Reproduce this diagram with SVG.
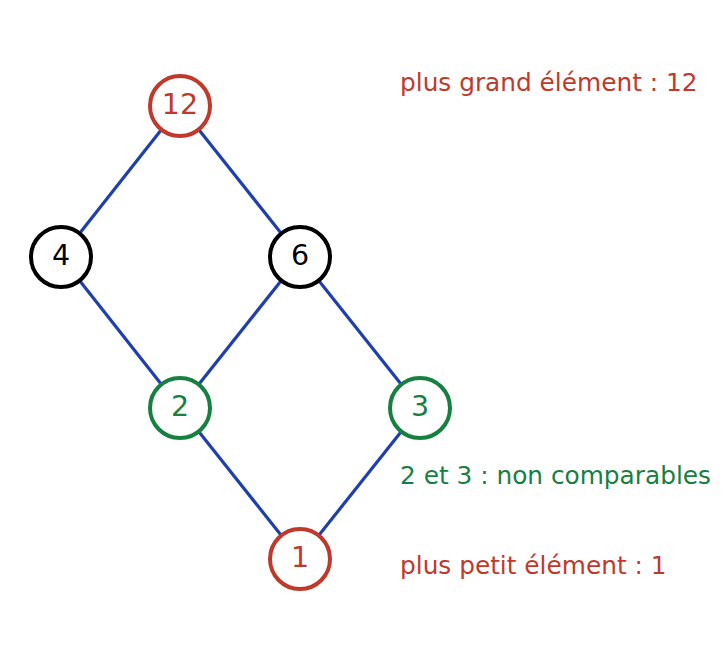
<svg xmlns="http://www.w3.org/2000/svg" width="727" height="665" viewBox="0 0 727 665">
<style>
.edge{stroke:#1f3fae;stroke-width:3.2;fill:none}
.node circle{fill:#fff;stroke-width:4}
.node text{font-family:"DejaVu Sans",sans-serif;font-size:28.5px;text-anchor:middle}
.red circle{stroke:#c0392b}.red text{fill:#c0392b}
.green circle{stroke:#178040}.green text{fill:#178040}
.black circle{stroke:#000}.black text{fill:#000}
.note{font-family:"DejaVu Sans",sans-serif;font-size:24.8px}
</style>
<rect width="727" height="665" fill="#fff"/>
<g id="connectors">
<line class="edge" x1="180" y1="106" x2="61" y2="257"/>
<line class="edge" x1="180" y1="106" x2="300" y2="257"/>
<line class="edge" x1="61" y1="257" x2="180" y2="408"/>
<line class="edge" x1="300" y1="257" x2="180" y2="408"/>
<line class="edge" x1="300" y1="257" x2="420" y2="408"/>
<line class="edge" x1="180" y1="408" x2="300" y2="559"/>
<line class="edge" x1="420" y1="408" x2="300" y2="559"/>
</g>
<g id="n12" class="node red"><circle cx="180" cy="106" r="30"/><text x="180" y="113.5">12</text></g>
<g id="n4" class="node black"><circle cx="61" cy="257" r="30"/><text x="61" y="264.5">4</text></g>
<g id="n6" class="node black"><circle cx="300" cy="257" r="30"/><text x="300" y="264.5">6</text></g>
<g id="n2" class="node green"><circle cx="180" cy="408" r="30"/><text x="180" y="415.5">2</text></g>
<g id="n3" class="node green"><circle cx="420" cy="408" r="30"/><text x="420" y="415.5">3</text></g>
<g id="n1" class="node red"><circle cx="300" cy="559" r="30"/><text x="300" y="566.5">1</text></g>
<g id="notes">
<text class="note" x="400" y="91" fill="#c0392b">plus grand élément : 12</text>
<text class="note" x="400" y="484" fill="#178040">2 et 3 : non comparables</text>
<text class="note" x="400" y="574" fill="#c0392b">plus petit élément : 1</text>
</g>
</svg>
